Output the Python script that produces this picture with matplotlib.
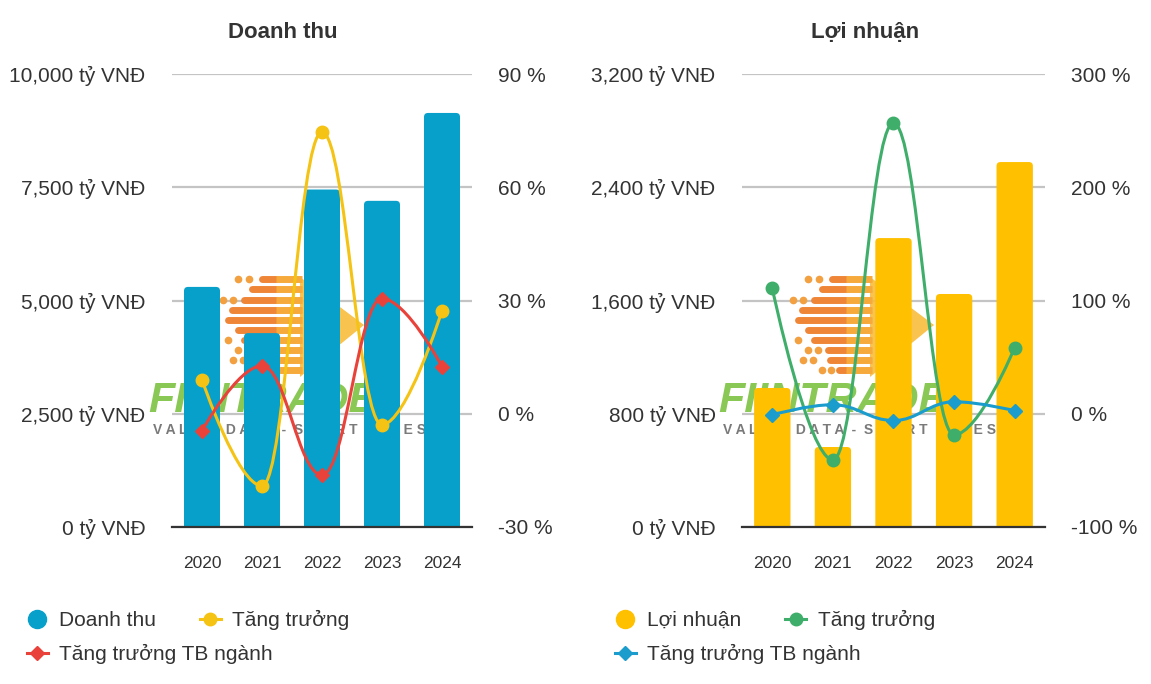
import numpy as np
import matplotlib.pyplot as plt
from matplotlib.path import Path
from matplotlib.patches import PathPatch, FancyBboxPatch, Polygon
from matplotlib.lines import Line2D
from matplotlib.ticker import FuncFormatter
from matplotlib.transforms import Affine2D

plt.rcParams['font.family'] = ['Liberation Sans', 'DejaVu Sans']

years = ['2020', '2021', '2022', '2023', '2024']

# Doanh thu (ty VND) and growth (%)
revenue = [5300, 4280, 7450, 7200, 9140]
revenue_growth = [9.0, -19.1, 74.6, -2.9, 27.3]
revenue_industry = [-4.5, 12.7, -16.2, 30.5, 12.5]

# Loi nhuan (ty VND) and growth (%)
profit = [982, 565, 2041, 1646, 2578]
profit_growth = [110.6, -40.7, 256.6, -18.6, 58.4]
profit_industry = [-0.9, 8.0, -6.0, 10.6, 2.7]

TEXT = '#333333'
W, H = 1151, 684
AX_H = 453


def spline_path(xs, ys):
    # smooth curve through the points, no overshoot at the points
    n = len(xs)
    left = [None] * n
    right = [None] * n
    for i in range(1, n - 1):
        x, y = xs[i], ys[i]
        lx, ly = xs[i - 1], ys[i - 1]
        nx, ny = xs[i + 1], ys[i + 1]
        lcx, lcy = (1.5 * x + lx) / 2.5, (1.5 * y + ly) / 2.5
        rcx, rcy = (1.5 * x + nx) / 2.5, (1.5 * y + ny) / 2.5
        corr = (rcy - lcy) * (rcx - x) / (rcx - lcx) + y - rcy
        lcy += corr
        rcy += corr
        if lcy > ly and lcy > y:
            lcy = max(ly, y); rcy = 2 * y - lcy
        elif lcy < ly and lcy < y:
            lcy = min(ly, y); rcy = 2 * y - lcy
        if rcy > ny and rcy > y:
            rcy = max(ny, y); lcy = 2 * y - rcy
        elif rcy < ny and rcy < y:
            rcy = min(ny, y); lcy = 2 * y - rcy
        left[i] = (lcx, lcy)
        right[i] = (rcx, rcy)
    verts = [(xs[0], ys[0])]
    codes = [Path.MOVETO]
    for i in range(1, n):
        c1 = right[i - 1] or (xs[i - 1], ys[i - 1])
        c2 = left[i] or (xs[i], ys[i])
        verts += [c1, c2, (xs[i], ys[i])]
        codes += [Path.CURVE4] * 3
    return Path(verts, codes)


def draw_logo(ax, ax_w):
    # faint brand watermark behind the bars, coordinates in pixels from axes corner
    tr = Affine2D().scale(1 / ax_w, 1 / AX_H) + ax.transAxes
    ax.add_patch(Polygon([(128, 250), (192, 202), (128, 150)], closed=True, transform=tr,
                         fc='#f8bd3c', ec='none', alpha=0.9, zorder=1))
    stripes = [(248, 90, [66, 77]), (238, 80, []), (227, 72, [51, 61]), (217, 60, []),
               (207, 56, []), (197, 66, []), (187, 72, [56]), (177, 86, [66, 76]),
               (167, 88, [61, 71]), (157, 97, [80, 89])]
    for yy, x0, dots in stripes:
        ax.plot([x0, 104], [yy, yy], transform=tr, color='#ef8637', lw=5,
                solid_capstyle='round', zorder=1)
        ax.plot([104, 130], [yy, yy], transform=tr, color='#f6aa3c', lw=5,
                solid_capstyle='butt', zorder=1)
        for d in dots:
            ax.plot([d], [yy], transform=tr, ls='none', marker='o', ms=4.5,
                    color='#f3a040', zorder=1)
    ax.text(-24, 115, 'FIINTRADE', transform=tr, ha='left', va='baseline',
            fontsize=31, fontweight='bold', style='italic', color='#7cc242', alpha=0.9, zorder=1)
    ax.text(-19, 97, 'V A L U E   D A T A  -  S M A R T   I N V E S T', transform=tr,
            ha='left', va='center', fontsize=10, fontweight='bold', color='#7a7a7a', zorder=1)


def panel(px, title, title_x, bars, growth, industry, bar_color, g_color, i_color,
          ymax, ystep, pmin, pmax, pstep, bar_label, legend_x):
    left, right = px
    ax_w = right - left
    ax = fig.add_axes([left / W, 1 - 527 / H, ax_w / W, AX_H / H])
    ax2 = ax.twinx()
    x = np.arange(len(years))

    ax.set_xlim(-0.5, len(years) - 0.5)
    ax.set_ylim(0, ymax)
    # bars with slightly rounded tops
    rects = ax.bar(x, bars, width=0.6, color=bar_color, zorder=2)
    r = 4 * len(years) / ax_w
    asp = (ymax / AX_H) / (len(years) / ax_w)
    for rc in rects:
        rc.set_visible(False)
        ax.add_patch(FancyBboxPatch((rc.get_x(), -r * asp), rc.get_width(), rc.get_height() + r * asp,
                                    boxstyle=f'round,pad=0,rounding_size={r}', mutation_aspect=asp,
                                    fc=bar_color, ec='none', zorder=2))

    ax.set_yticks(np.arange(0, ymax + 1, ystep))
    ax.yaxis.set_major_formatter(FuncFormatter(lambda v, p: f'{v:,.0f} tỷ VNĐ'))
    ax.set_xticks(x)
    ax.set_xticklabels(years)
    ax.grid(axis='y', color='#c4c4c4', lw=1.6)
    ax.set_axisbelow(True)
    ax.tick_params(axis='y', length=0, pad=19, labelsize=15, labelcolor=TEXT)
    ax.tick_params(axis='x', length=0, pad=21, labelsize=12.5, labelcolor=TEXT)
    for s in ['top', 'left', 'right']:
        ax.spines[s].set_visible(False)
    ax.spines['bottom'].set_color('#333333')
    ax.spines['bottom'].set_linewidth(1.6)
    ax.spines['bottom'].set_zorder(3)

    draw_logo(ax, ax_w)

    ax2.set_ylim(pmin, pmax)
    ax2.set_yticks(np.arange(pmin, pmax + 1, pstep))
    ax2.yaxis.set_major_formatter(FuncFormatter(lambda v, p: f'{v:.0f} %'))
    ax2.tick_params(axis='y', length=0, pad=19, labelsize=15, labelcolor=TEXT)
    for s in ax2.spines.values():
        s.set_visible(False)

    ax2.add_patch(PathPatch(spline_path(x, growth), fill=False, ec=g_color, lw=2.2, zorder=3))
    ax2.plot(x, growth, ls='none', marker='o', ms=9, color=g_color, zorder=4)
    ax2.add_patch(PathPatch(spline_path(x, industry), fill=False, ec=i_color, lw=2.2, zorder=3))
    ax2.plot(x, industry, ls='none', marker='D', ms=7, color=i_color, zorder=4)

    fig.text(title_x / W, 1 - 32 / H, title, ha='center', va='center', fontsize=16,
             fontweight='bold', color=TEXT)

    h1 = [Line2D([], [], ls='none', marker='o', ms=13, color=bar_color, label=bar_label),
          Line2D([], [], color=g_color, lw=2.2, marker='o', ms=9, label='Tăng trưởng')]
    h2 = [Line2D([], [], color=i_color, lw=2.2, marker='D', ms=7, label='Tăng trưởng TB ngành')]
    for hs, yy in [(h1, 620), (h2, 654)]:
        fig.legend(handles=hs, loc='center left', bbox_to_anchor=(legend_x / W, 1 - yy / H),
                   ncol=2, frameon=False, fontsize=15, handlelength=1.0, handletextpad=0.55,
                   columnspacing=2.1, borderpad=0, borderaxespad=0, labelcolor=TEXT)


fig = plt.figure(figsize=(W / 100, H / 100), dpi=100)

panel((172, 472), 'Doanh thu', 283, revenue, revenue_growth, revenue_industry,
      '#06a0cb', '#f5c313', '#e8423a', 10000, 2500, -30, 90, 30, 'Doanh thu', 27)
panel((742, 1045), 'Lợi nhuận', 865, profit, profit_growth, profit_industry,
      '#ffc000', '#3fae6a', '#1a9ccc', 3200, 800, -100, 300, 100, 'Lợi nhuận', 615)

fig.savefig('out.png', dpi=100)
